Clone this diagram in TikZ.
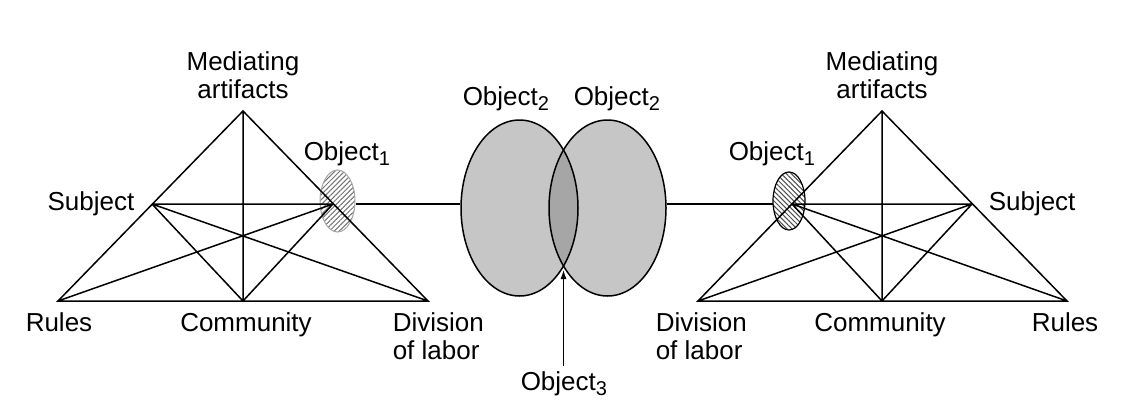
\documentclass[tikz,border=0pt]{standalone}
\usepackage{fontspec}
\setmainfont{Liberation Sans}
\usetikzlibrary{shapes.geometric,patterns.meta,arrows.meta}

\newcommand{\osub}[1]{\raisebox{-5pt}{\fontsize{20}{20}\selectfont #1}}

\tikzset{
 lbl/.style={font=\fontsize{26}{28}\selectfont, inner sep=0pt},
 bigobj/.style={ellipse, minimum width=117pt, minimum height=176pt, inner sep=0pt},
 hatchobj/.style={ellipse, inner sep=0pt, minimum width=33pt, minimum height=60pt}
}

\begin{document}
\begin{tikzpicture}[x=1pt,y=-1pt,line width=1.5pt]
\useasboundingbox (0,0) rectangle (1140,412);

\coordinate (lA) at (243,111); \coordinate (lS) at (152,204); \coordinate (lR) at (58,301);
\coordinate (lC) at (243,301); \coordinate (lD) at (428,301); \coordinate (lO) at (333,204);
\coordinate (rA) at (882,111); \coordinate (rS) at (972,204); \coordinate (rR) at (1067,301);
\coordinate (rC) at (882,301); \coordinate (rD) at (698,301); \coordinate (rO) at (792,204);

\node[hatchobj, draw=gray!70, line width=1pt, minimum width=35pt, minimum height=62pt,
 pattern={Lines[angle=45,distance=3.5pt,line width=1pt]}, pattern color=gray!90!black] (h1) at (337.5,201) {};
\node[hatchobj, draw, line width=1.2pt, minimum width=32pt, minimum height=58pt,
 pattern={Lines[angle=-45,distance=3.5pt,line width=1pt]}, pattern color=gray!60!black] (h2) at (789,201) {};

\draw (lA) -- (lR) -- (lD) -- cycle (lA) -- (lC) (lS) -- (lO) (lS) -- (lC) (lS) -- (lD) (lR) -- (lO) (lC) -- (lO);
\draw (rA) -- (rD) -- (rR) -- cycle (rA) -- (rC) (rO) -- (rS) (rO) -- (rC) (rO) -- (rR) (rD) -- (rS) (rC) -- (rS);

\node[bigobj, fill=gray!45] (e1) at (519.5,208) {};
\node[bigobj, fill=gray!45] (e2) at (607.5,208) {};
\begin{scope}
\clip (e1.center) ellipse [x radius=58.5, y radius=88];
\fill[gray!70] (e2.center) ellipse [x radius=58.5, y radius=88];
\end{scope}
\draw (e1.center) ellipse [x radius=58.5, y radius=88];
\draw (e2.center) ellipse [x radius=58.5, y radius=88];
\coordinate (x3) at (563.5,267);

\draw (h1.east |- lO) -- (lO -| e1.west);
\draw (e2.east |- rO) -- (h2.west |- rO);

\node[lbl, align=center, anchor=south] (lmed) at (243,100) {Mediating\\artifacts};
\node[lbl, anchor=base west] (lobj) at (303,160) {Object\osub{1}};
\node[lbl, anchor=base east] (lsub) at (135,210) {Subject};
\node[lbl, anchor=base] (lrul) at (59,331) {Rules};
\node[lbl, anchor=base] (lcom) at (246,331) {Community};
\node[lbl, align=left, anchor=north west] (ldiv) at (392,312) {Division\\of labor};

\node[lbl, align=center, anchor=south] (rmed) at (882,100) {Mediating\\artifacts};
\node[lbl, anchor=base west] (robj) at (728,160) {Object\osub{1}};
\node[lbl, anchor=base west] (rsub) at (988,210) {Subject};
\node[lbl, anchor=base] (rrul) at (1065,331) {Rules};
\node[lbl, anchor=base] (rcom) at (880,331) {Community};
\node[lbl, align=left, anchor=north west] (rdiv) at (655,312) {Division\\of labor};

\node[lbl, anchor=base west] (o2a) at (462,105) {Object\osub{2}};
\node[lbl, anchor=base west] (o2b) at (573,105) {Object\osub{2}};
\node[lbl, anchor=base west] (o3) at (520,390) {Object\osub{3}};

\draw[line width=1pt, -{Latex[length=9pt,width=6pt]}] ([yshift=4pt]o3.north -| x3) -- ([yshift=-3pt]x3);
\end{tikzpicture}
\end{document}
